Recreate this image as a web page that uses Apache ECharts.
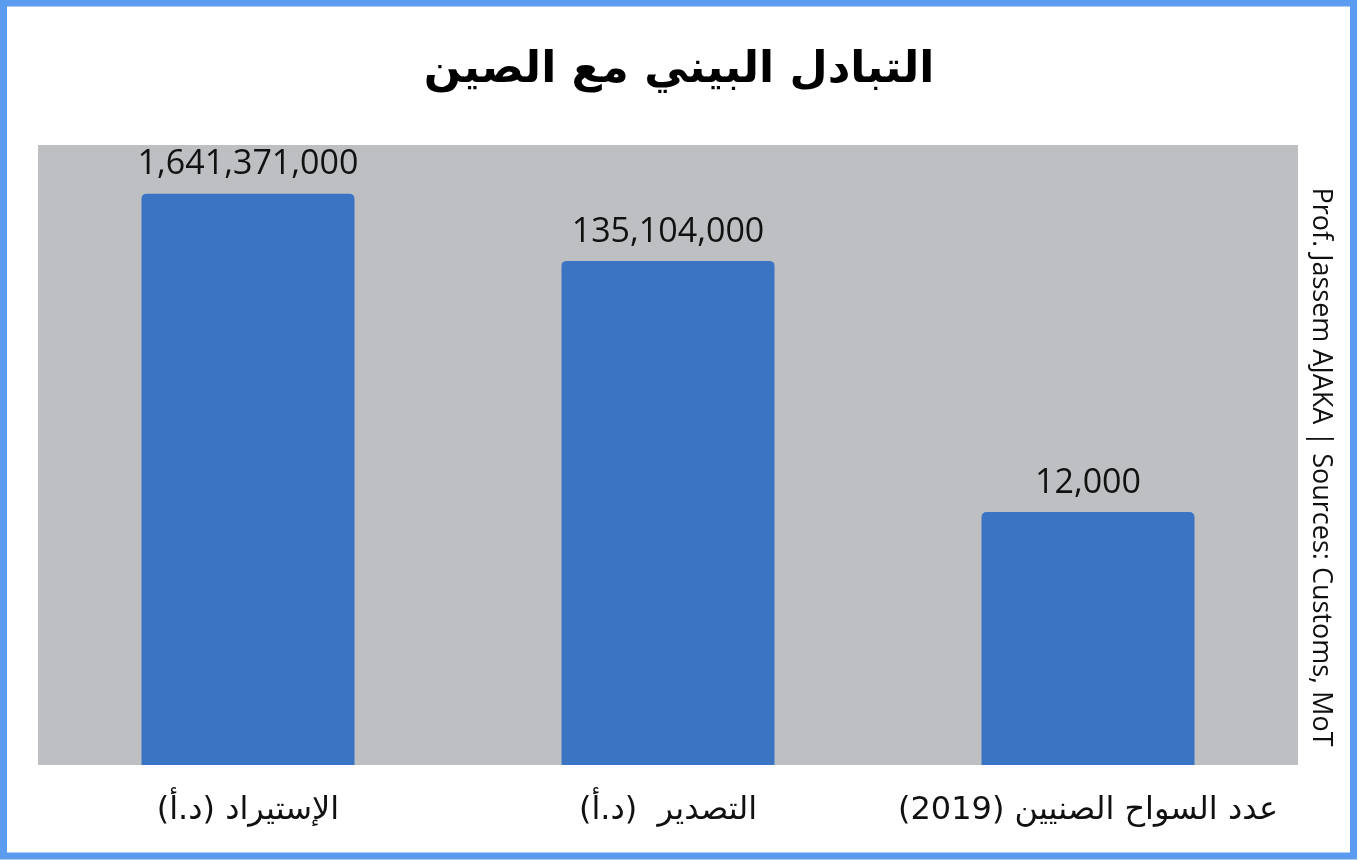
<!DOCTYPE html>
<html>
<head>
<meta charset="utf-8">
<script src="https://cdn.jsdelivr.net/npm/echarts@6/dist/echarts.min.js"></script>
<style>
html,body{margin:0;padding:0;background:#fff;}
#c{width:1358px;height:860px;}
</style>
</head>
<body>
<div id="c" dir="rtl"></div>
<script>
const titleText = 'التبادل البيني مع الصين';
const categories = ['الإستيراد (د.أ)', 'التصدير  (د.أ)', 'عدد السواح الصنيين (2019)'];
const values = [1641371000, 135104000, 12000];
const sourceText = 'Prof. Jassem AJAKA | Sources: Customs, MoT';

const chart = echarts.init(document.getElementById('c'));
chart.setOption({
  backgroundColor: '#ffffff',
  animation: false,
  title: {
    text: titleText,
    left: 'center',
    top: 44,
    textStyle: { fontFamily: 'DejaVu Sans', fontSize: 44, fontWeight: 'bold', color: '#000' }
  },
  grid: {
    left: 38, top: 145, width: 1260, height: 620,
    show: true, backgroundColor: '#BDBFC2', borderWidth: 0
  },
  xAxis: {
    type: 'category',
    data: categories,
    axisLine: { show: false },
    axisTick: { show: false },
    axisLabel: { interval: 0, fontFamily: 'DejaVu Sans', fontSize: 32, color: '#111', margin: 30 }
  },
  yAxis: {
    type: 'log', logBase: 10, min: 1, max: 1e10, show: false
  },
  series: [{
    type: 'bar',
    data: values,
    barWidth: 213,
    itemStyle: { color: '#3B74C2', borderRadius: [5, 5, 0, 0] },
    label: {
      show: true, position: 'top', distance: 12,
      fontFamily: 'Open Sans', fontSize: 34, color: '#111',
      formatter: p => p.value.toLocaleString('en-US')
    }
  }],
  graphic: [
    {
      type: 'text',
      x: 1321, y: 467,
      rotation: -Math.PI / 2,
      style: {
        text: sourceText, fontFamily: 'Open Sans', fontSize: 27, fill: '#111',
        textAlign: 'center', textVerticalAlign: 'middle'
      }
    },
    {
      type: 'rect',
      shape: { x: 3.5, y: 3, width: 1350, height: 853 },
      style: { fill: 'none', stroke: '#5B9BF0', lineWidth: 7 },
      z: 100
    }
  ]
});
</script>
</body>
</html>
